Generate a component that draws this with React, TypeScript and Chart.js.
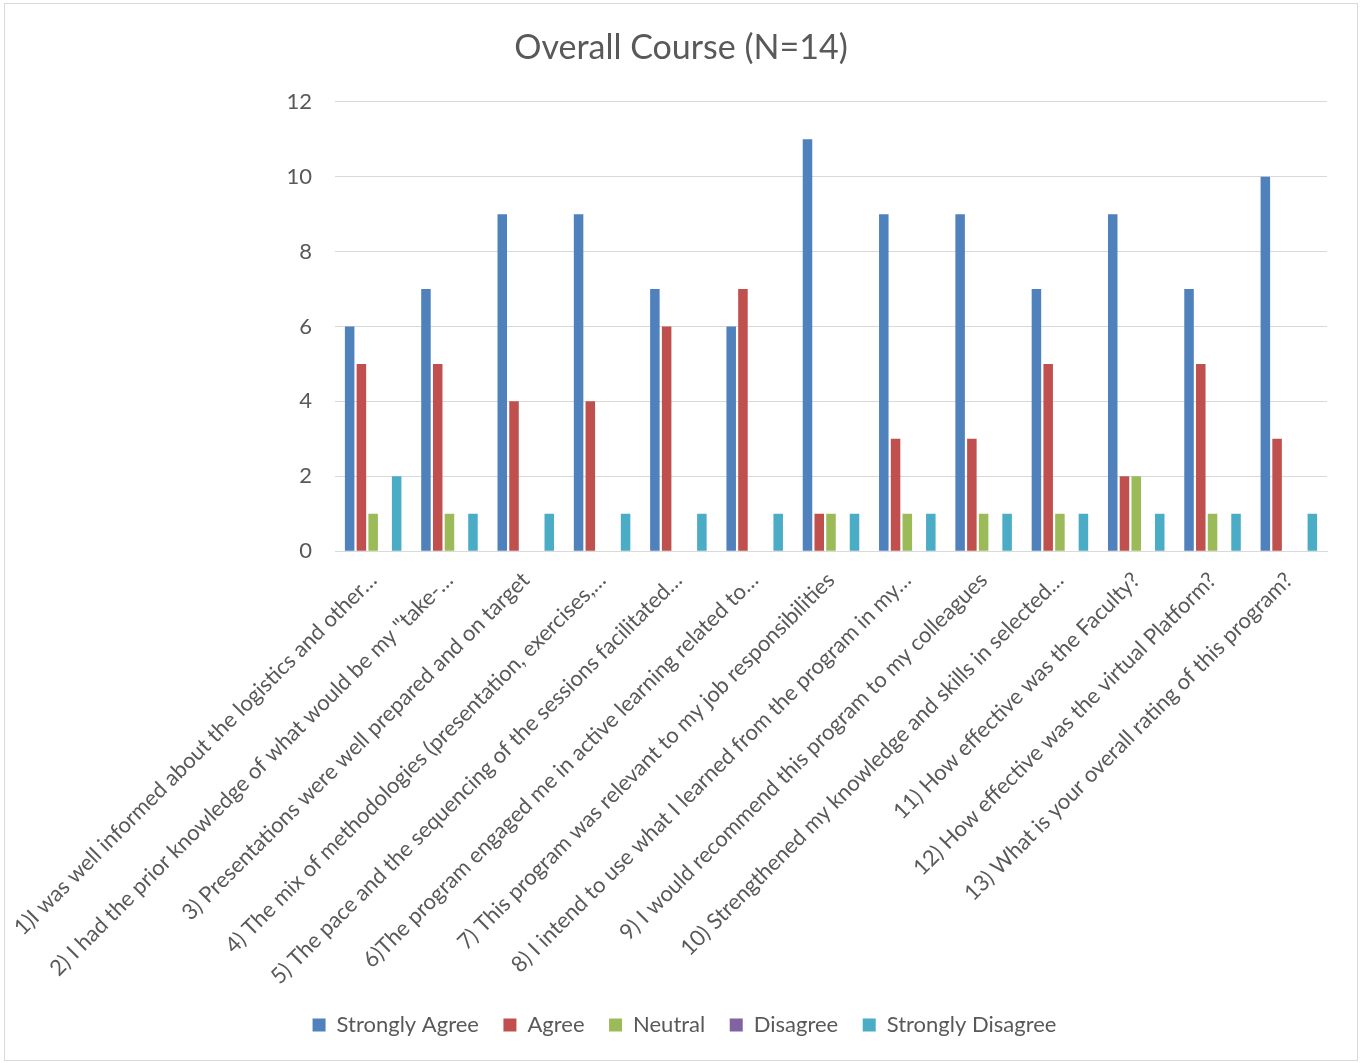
import React, { useEffect, useRef } from "react";
import { Chart, registerables } from "chart.js";

Chart.register(...registerables);

const categories: string[] = [
  "1)I was well informed about the logistics and other…",
  "2) I had the prior knowledge of what would be my \"take-…",
  "3) Presentations were well prepared and on target",
  "4) The mix of methodologies (presentation, exercises,…",
  "5) The pace and the sequencing of the sessions facilitated…",
  "6)The program engaged me in active learning related to…",
  "7) This program was relevant to my job responsibilities",
  "8) I intend to use what I learned from the program in my…",
  "9) I would recommend this program to my colleagues",
  "10) Strengthened my knowledge and skills in selected…",
  "11) How effective was the Faculty?",
  "12) How effective was the virtual Platform?",
  "13) What is your overall rating of this program?",
];

const stronglyAgree = [6, 7, 9, 9, 7, 6, 11, 9, 9, 7, 9, 7, 10];
const agree = [5, 5, 4, 4, 6, 7, 1, 3, 3, 5, 2, 5, 3];
const neutral = [1, 1, 0, 0, 0, 0, 1, 1, 1, 1, 2, 1, 0];
const disagree = [0, 0, 0, 0, 0, 0, 0, 0, 0, 0, 0, 0, 0];
const stronglyDisagree = [2, 1, 1, 1, 1, 1, 1, 1, 1, 1, 1, 1, 1];

const seriesNames = ["Strongly Agree", "Agree", "Neutral", "Disagree", "Strongly Disagree"];
const seriesColors = ["#4F81BD", "#C0504D", "#9BBB59", "#8064A2", "#4BACC6"];
const yTicks = [0, 2, 4, 6, 8, 10, 12];

const FONT = "Lato, 'Open Sans', sans-serif";
const TEXT = "#595959";

const centerShift = {
  id: "centerShift",
  beforeDraw(chart: any) {
    const t = chart.titleBlock;
    if (t && !t._shifted) {
      t.left += 7.5;
      t.right += 7.5;
      t._shifted = true;
    }
    const l = chart.legend;
    if (l && !l._shifted) {
      l.left += 11;
      l.right += 11;
      l._shifted = true;
    }
  },
};

export default function App() {
  const ref = useRef<HTMLCanvasElement | null>(null);

  useEffect(() => {
    if (!ref.current) return;
    const values = [stronglyAgree, agree, neutral, disagree, stronglyDisagree];
    const chart = new Chart(ref.current, {
      type: "bar",
      data: {
        labels: categories,
        datasets: values.map((v, i) => ({
          label: seriesNames[i],
          data: v,
          backgroundColor: seriesColors[i],
          borderWidth: 0,
          categoryPercentage: 0.77,
          barPercentage: 0.81,
        })),
      },
      plugins: [centerShift],
      options: {
        animation: false,
        responsive: true,
        maintainAspectRatio: false,
        layout: { padding: { top: 0, right: 30, bottom: 14, left: 15 } },
        plugins: {
          title: {
            display: true,
            text: "Overall Course (N=14)",
            color: TEXT,
            font: { family: FONT, size: 34, weight: "normal" },
            padding: { top: 24, bottom: 33 },
          },
          legend: {
            position: "bottom",
            labels: {
              color: TEXT,
              font: { family: FONT, size: 22 },
              boxWidth: 13,
              boxHeight: 13,
              padding: 24.5,
            },
          },
          tooltip: { enabled: false },
        },
        scales: {
          x: {
            grid: { display: false },
            border: { display: true, color: "#d9d9d9" },
            ticks: {
              color: TEXT,
              font: { family: FONT, size: 22 },
              minRotation: 45,
              maxRotation: 45,
              autoSkip: false,
              padding: 8,
            },
            afterFit: (axis: any) => {
              axis.paddingLeft = 330;
              axis.height -= 8;
            },
          },
          y: {
            min: 0,
            max: 12,
            afterBuildTicks: (axis: any) => {
              axis.ticks = yTicks.map((v) => ({ value: v }));
            },
            grid: { color: "#d9d9d9", drawTicks: false, lineWidth: 1 },
            border: { display: false },
            ticks: {
              color: TEXT,
              font: { family: FONT, size: 22 },
              padding: 23,
            },
          },
        },
      },
    });
    return () => chart.destroy();
  }, []);

  return (
    <div style={{ position: "absolute", left: 0, top: 0, width: 1362, height: 1063, background: "#fff" }}>
      <div
        style={{
          position: "absolute",
          left: 4,
          top: 3,
          width: 1354,
          height: 1058,
          border: "1px solid #d9d9d9",
          boxSizing: "border-box",
        }}
      >
        <div style={{ position: "relative", width: 1352, height: 1056 }}>
          <canvas ref={ref} />
        </div>
      </div>
    </div>
  );
}
